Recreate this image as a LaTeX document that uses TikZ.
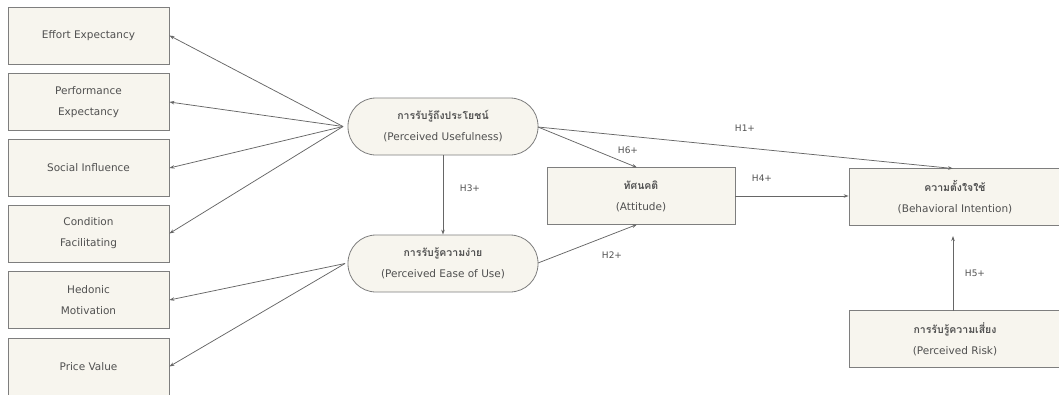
\documentclass[tikz,border=0pt]{standalone}
\usepackage{fontspec}
\setmainfont{DejaVu Sans}
\newfontfamily\thaifont[Script=Thai]{Loma}
\usetikzlibrary{arrows.meta,shapes.misc}
\definecolor{boxfill}{HTML}{F7F5EE}
\definecolor{boxline}{HTML}{7E7E7E}
\definecolor{txt}{HTML}{505050}
\definecolor{arr}{HTML}{666666}
\tikzset{
  lbox/.style={draw=boxline,fill=boxfill,line width=0.8pt,minimum width=161pt,minimum height=57pt,
    align=center,text=txt,font=\fontsize{10.5}{21}\selectfont,inner sep=0pt},
  rbox/.style={lbox,minimum width=188pt},
  bibox/.style={lbox,minimum width=212pt},
  stad/.style={draw=boxline,fill=boxfill,line width=0.8pt,rounded corners=28pt,minimum width=190pt,minimum height=57pt,
    align=center,text=txt,font=\fontsize{10.5}{21}\selectfont,inner sep=0pt},
  link/.style={draw=arr,line width=0.75pt,-{Stealth[length=5pt,width=3.5pt]}},
  lab/.style={text=txt,font=\fontsize{9}{11}\selectfont}
}
\newcommand{\thaitxt}[1]{{\thaifont\bfseries #1}}
\begin{document}
\begin{tikzpicture}[x=1pt,y=-1pt]
\useasboundingbox (0,0) rectangle (1059,394);
% left boxes
\node[lbox] (ee) at (88.5,35.5) {Effort Expectancy};
\node[lbox] (pe) at (88.5,102) {Performance\\Expectancy};
\node[lbox] (si) at (88.5,168) {Social Influence};
\node[lbox] (cf) at (88.5,233.5) {Condition\\Facilitating};
\node[lbox] (hm) at (88.5,300) {Hedonic\\Motivation};
\node[lbox] (pv) at (88.5,366.5) {Price Value};
% stadiums
\node[stad] (pu) at (443,126.5) {\thaitxt{การรับรู้ถึงประโยชน์}\\(Perceived Usefulness)};
\node[stad] (peou) at (443,263.5) {\thaitxt{การรับรู้ความง่าย}\\(Perceived Ease of Use)};
% right boxes
\node[rbox] (att) at (641,196) {\thaitxt{ทัศนคติ}\\(Attitude)};
\node[bibox] (bi) at (955,197) {\thaitxt{ความตั้งใจใช้}\\(Behavioral Intention)};
\node[bibox] (pr) at (955,339) {\thaitxt{การรับรู้ความเสี่ยง}\\(Perceived Risk)};
% coordinates
\coordinate (puw) at (343,126.5);
\coordinate (peouw) at (345,263.5);
\coordinate (pue) at (538,127);
\coordinate (peoue) at (538,263);
\coordinate (atttop) at (637,167.5);
\coordinate (attbot) at (637,224.5);
\coordinate (bitop) at (953,168.5);
\coordinate (bibot) at (953,236);
\coordinate (prtop) at (953,310.5);
% arrows from PU
\draw[link] (puw) -- (ee.east);
\draw[link] (puw) -- (pe.east);
\draw[link] (puw) -- (si.east);
\draw[link] (puw) -- (cf.east);
% arrows from PEOU
\draw[link] (peouw) -- (hm.east);
\draw[link] (peouw) -- (pv.east);
% hypotheses
\draw[link] (pu.south) -- (peou.north);
\node[lab] (h3) at (470,188) {H3+};
\draw[link] (pue) -- (atttop);
\node[lab] (h6) at (628,150) {H6+};
\draw[link] (pue) -- (bitop);
\node[lab] (h1) at (745,128) {H1+};
\draw[link] (peoue) -- (attbot);
\node[lab] (h2) at (612,255) {H2+};
\draw[link] (att.east) -- (bi.west |- att.east);
\node[lab] (h4) at (762,178) {H4+};
\draw[link] (prtop) -- (bibot);
\node[lab] (h5) at (975,273) {H5+};
\end{tikzpicture}
\end{document}
